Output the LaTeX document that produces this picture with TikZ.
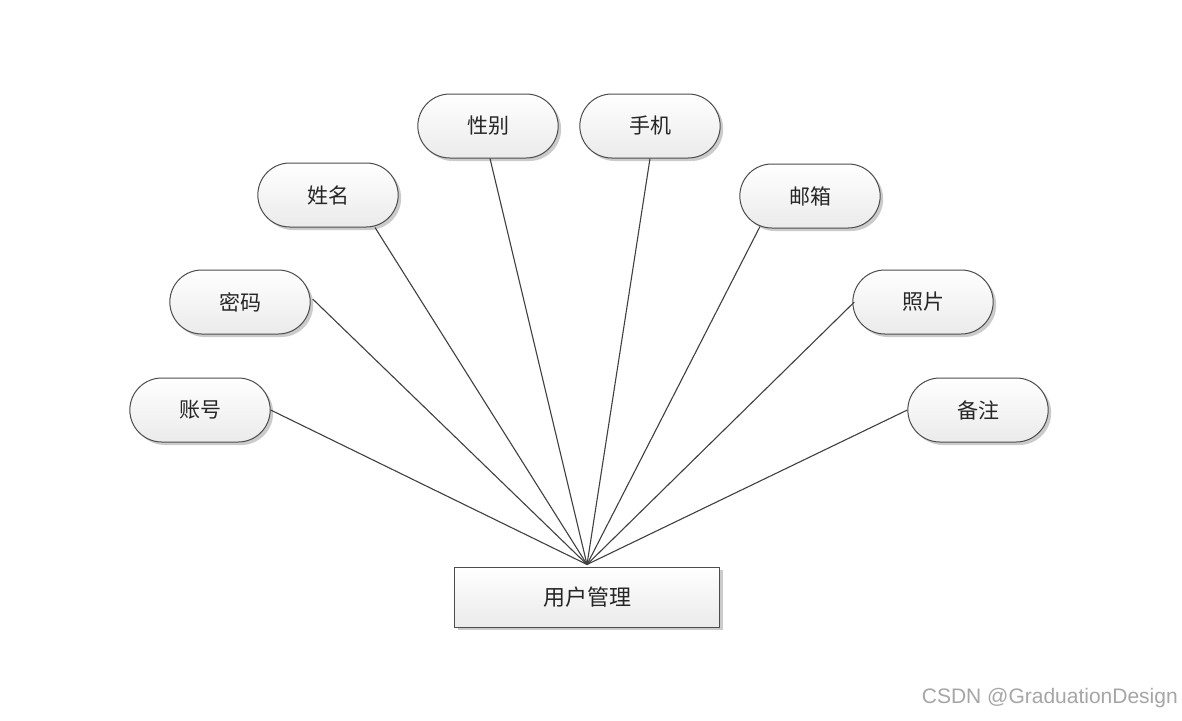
\documentclass[tikz,border=0pt]{standalone}
\usepackage{fontspec}
\setmainfont{Liberation Sans}
\newfontfamily\cjk{Noto Sans CJK SC}
\usetikzlibrary{shapes.misc,shadows,calc}
\tikzset{
  attr/.style={rounded rectangle, draw=black!70, line width=1pt, minimum width=147pt, minimum height=64pt,
    top color=white, bottom color=black!8, font=\cjk\fontsize{21}{23}\selectfont, text=black!85,
    drop shadow={shadow xshift=3pt, shadow yshift=-3pt, fill=black!25, opacity=0.8}},
  ent/.style={rectangle, draw=black!70, line width=1pt, minimum width=265pt, minimum height=60pt,
    top color=white, bottom color=black!8, font=\cjk\fontsize{22}{24}\selectfont, text=black!85,
    drop shadow={shadow xshift=3pt, shadow yshift=-3pt, fill=black!25, opacity=0.8}},
  link/.style={draw=black!75, line width=1.1pt}
}
\begin{document}
\begin{tikzpicture}[x=1pt,y=-1pt]
\useasboundingbox (0,0) rectangle (1182,720);
\fill[white] (0,0) rectangle (1182,720);
\node[attr] (zh) at (200,410) {账号};
\node[attr] (mm) at (240,302) {密码};
\node[attr] (xm) at (328,195) {姓名};
\node[attr] (xb) at (488,126) {性别};
\node[attr] (sj) at (650,126) {手机};
\node[attr] (yx) at (810,196) {邮箱};
\node[attr] (zp) at (923,302) {照片};
\node[attr] (bz) at (978,410) {备注};
\node[ent] (yh) at (587,597) {用户管理};
\coordinate (hub) at ([yshift=2pt]yh.north);
\draw[link] (zh.east) -- (hub);
\draw[link] ([shift={(2pt,3pt)}]mm.east) -- (hub);
\draw[link] ([xshift=47pt]xm.south) -- (hub);
\draw[link] ([xshift=2pt]xb.south) -- (hub);
\draw[link] ([xshift=0pt]sj.south) -- (hub);
\draw[link] ([xshift=-50pt,yshift=2pt]yx.south) -- (hub);
\draw[link] ([xshift=2pt]zp.west) -- (hub);
\draw[link] (bz.west) -- (hub);
\node[anchor=east, text=black!35, font=\fontsize{21}{23}\selectfont, inner sep=0pt] (wm) at (1178,698) {CSDN @GraduationDesign};
\end{tikzpicture}
\end{document}
